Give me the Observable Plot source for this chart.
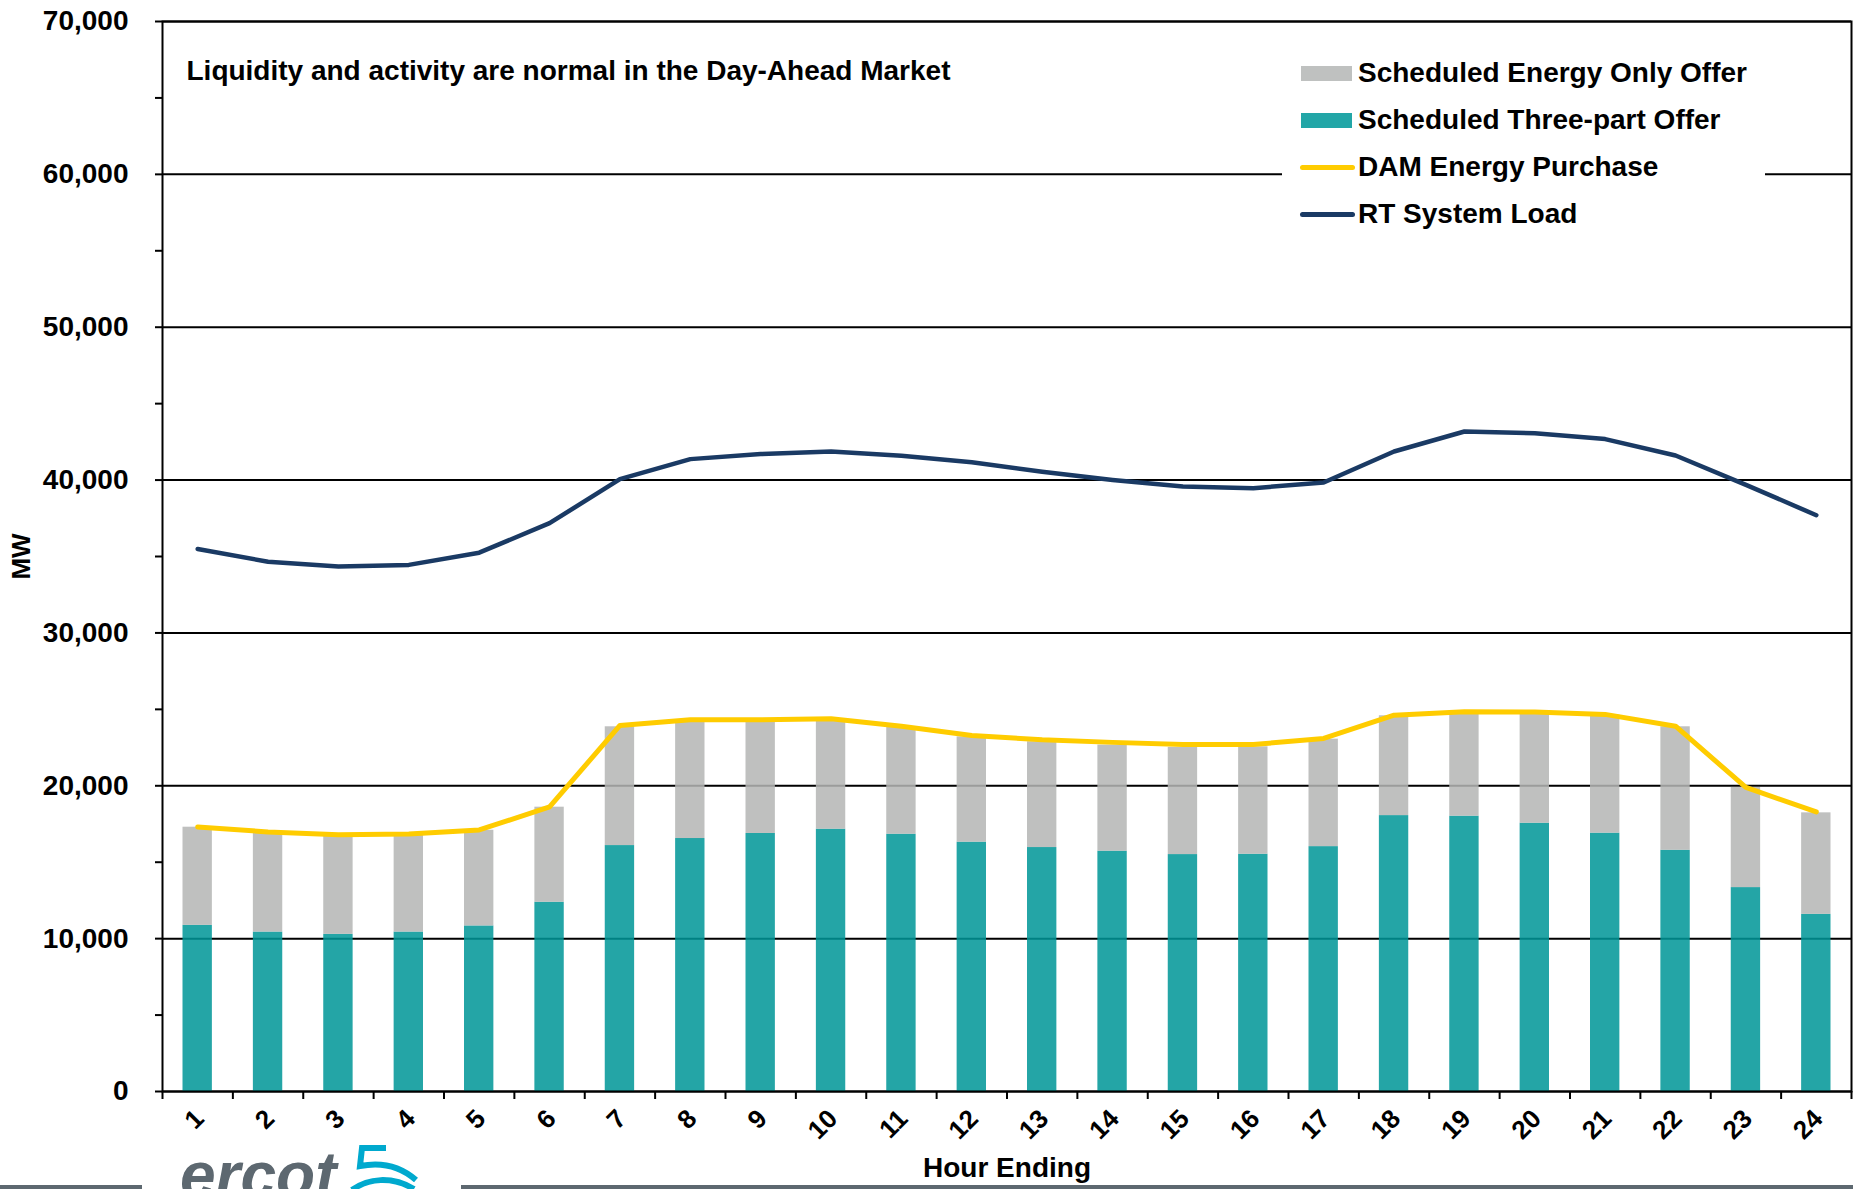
<!DOCTYPE html>
<html>
<head>
<meta charset="utf-8">
<script src="https://cdn.jsdelivr.net/npm/d3@7"></script>
<script src="https://cdn.jsdelivr.net/npm/@observablehq/plot@0.6"></script>
<style>
  html, body { margin: 0; padding: 0; background: #fff; }
  #wrap { position: relative; width: 1853px; height: 1189px; overflow: hidden; font-family: "Liberation Sans", Arial, sans-serif; }
  #chart { position: absolute; left: 0; top: 0; }
  #legend { position: absolute; left: 1282px; top: 40px; width: 483px; height: 195px; background: #fff; }
  .row { position: absolute; left: 0; height: 30px; width: 483px; }
  .sw { position: absolute; left: 19px; }
  .lab { position: absolute; left: 76px; top: 0; line-height: 30px; font-size: 28px; font-weight: bold; color: #000; white-space: nowrap; }
  #logo { position: absolute; left: 0; top: 0; pointer-events: none; }
</style>
</head>
<body>
<div id="wrap">
  <div id="chart"></div>
  <div id="legend"></div>
  <svg id="logo" width="1853" height="1189"></svg>
</div>
<script>
// ---------- data ----------
const hours = [1,2,3,4,5,6,7,8,9,10,11,12,13,14,15,16,17,18,19,20,21,22,23,24];
const threePartOffer = [10870,10430,10280,10430,10830,12380,16090,16550,16880,17160,16830,16310,15960,15720,15500,15520,16020,18050,18010,17550,16900,15780,13340,11590];
const energyOnlyOffer = [6420,6550,6480,6400,6260,6220,7770,7700,7370,7140,7020,6890,6920,6940,7010,7030,7030,6530,6790,7250,7720,8080,6550,6640];
const damEnergyPurchase = [17310,16980,16790,16840,17110,18620,23950,24320,24320,24380,23900,23290,23010,22840,22700,22700,23100,24620,24840,24830,24670,23900,19890,18290];
const rtSystemLoad = [35490,34660,34340,34450,35250,37180,40060,41370,41700,41870,41590,41170,40540,40010,39580,39470,39840,41870,43180,43070,42680,41610,39690,37700];
const yMajorTicks = [0,10000,20000,30000,40000,50000,60000,70000];
const yMinorTicks = [5000,15000,25000,35000,45000,55000,65000];
const xBoundaryTicks = [0.5,1.5,2.5,3.5,4.5,5.5,6.5,7.5,8.5,9.5,10.5,11.5,12.5,13.5,14.5,15.5,16.5,17.5,18.5,19.5,20.5,21.5,22.5,23.5,24.5];
const seriesNames = ["Scheduled Three-part Offer","Scheduled Energy Only Offer"];
const annotation = "Liquidity and activity are normal in the Day-Ahead Market";

// ---------- tables ----------
const bars = hours.flatMap((h, i) => [
  {hour: h, series: seriesNames[0], value: threePartOffer[i]},
  {hour: h, series: seriesNames[1], value: energyOnlyOffer[i]}
]);
const dam = hours.map((h, i) => ({hour: h, value: damEnergyPurchase[i]}));
const rt = hours.map((h, i) => ({hour: h, value: rtSystemLoad[i]}));

const FONT = "Liberation Sans, Arial, sans-serif";

const chart = Plot.plot({
  width: 1853,
  height: 1189,
  marginLeft: 162,
  marginRight: 2,
  marginTop: 21,
  marginBottom: 98,
  style: {fontFamily: FONT, background: "#fff", color: "#000"},
  x: {type: "linear", domain: [0.5, 24.5], axis: null},
  y: {domain: [0, 70000], axis: null},
  color: {domain: seriesNames, range: ["rgb(0,150,151)", "rgb(180,182,181)"]},
  marks: [
    Plot.ruleY(yMajorTicks, {stroke: "#000", strokeWidth: 2}),
    Plot.rectY(bars, {
      x1: d => d.hour - 0.5, x2: d => d.hour + 0.5, y: "value",
      fill: "series", fillOpacity: 0.86, insetLeft: 20.5, insetRight: 20.5
    }),
    Plot.line(dam, {x: "hour", y: "value", stroke: "#FFCC00", strokeWidth: 5, strokeLinejoin: "round", strokeLinecap: "round"}),
    Plot.line(rt, {x: "hour", y: "value", stroke: "#1A3A64", strokeWidth: 4.5, strokeLinejoin: "round", strokeLinecap: "round"}),
    Plot.frame({stroke: "#000", strokeWidth: 2}),
    Plot.axisY({ticks: yMajorTicks, tickSize: 7, tickPadding: 27, tickFormat: d3.format(","), fontSize: 28, fontWeight: "bold", label: null, strokeWidth: 2}),
    Plot.axisY({ticks: yMinorTicks, tickSize: 7, tickFormat: () => "", label: null, strokeWidth: 2}),
    Plot.axisX({ticks: xBoundaryTicks, tickSize: 8, tickFormat: () => "", label: null, strokeWidth: 2}),
    Plot.text(hours, {x: d => d, y: 0, text: d => String(d), rotate: -45, textAnchor: "end", lineAnchor: "middle", dy: 23, dx: 2, fontSize: 26, fontWeight: "bold", fill: "#000"}),
    Plot.text([annotation], {frameAnchor: "top-left", textAnchor: "start", lineAnchor: "middle", dx: 24, dy: 50, fontSize: 28, fontWeight: "bold", fill: "#000"}),
    Plot.text(["MW"], {frameAnchor: "left", textAnchor: "middle", lineAnchor: "middle", rotate: -90, dx: -141, fontSize: 26, fontWeight: "bold", fill: "#000"}),
    Plot.text(["Hour Ending"], {frameAnchor: "bottom", textAnchor: "middle", lineAnchor: "middle", dy: 77, fontSize: 28, fontWeight: "bold", fill: "#000"})
  ]
});
document.getElementById("chart").appendChild(chart);

// ---------- legend ----------
const legendItems = [
  {label: "Scheduled Energy Only Offer", kind: "rect", color: "#BFC1C0"},
  {label: "Scheduled Three-part Offer", kind: "rect", color: "#22A6A7"},
  {label: "DAM Energy Purchase", kind: "line", color: "#FFCC00"},
  {label: "RT System Load", kind: "line", color: "#1A3A64"}
];
const legend = document.getElementById("legend");
legendItems.forEach((it, i) => {
  const row = document.createElement("div");
  row.className = "row";
  row.style.top = (18 + i * 47) + "px";
  const sw = document.createElement("div");
  sw.className = "sw";
  if (it.kind === "rect") {
    sw.style.cssText = `left:19px;top:8px;width:51px;height:15px;background:${it.color};`;
  } else {
    sw.style.cssText = `left:18px;top:13px;width:55px;height:5px;border-radius:3px;background:${it.color};`;
  }
  const lab = document.createElement("div");
  lab.className = "lab";
  lab.textContent = it.label;
  row.appendChild(sw);
  row.appendChild(lab);
  legend.appendChild(row);
});

// ---------- footer logo ----------
const logo = d3.select("#logo");
logo.append("rect").attr("x", 0).attr("y", 1185).attr("width", 142).attr("height", 4).attr("fill", "#5D6870");
logo.append("rect").attr("x", 461).attr("y", 1185).attr("width", 1392).attr("height", 4).attr("fill", "#5D6870");
logo.append("text").attr("x", 180).attr("y", 1197).attr("font-family", FONT).attr("font-style", "italic")
  .attr("font-weight", "bold").attr("font-size", 64).attr("fill", "#5D6870").text("ercot");
logo.append("path").attr("d", "M386,1148 L362,1148 L360,1166 C380,1162 400,1166 416,1180")
  .attr("fill", "none").attr("stroke", "#00A9CE").attr("stroke-width", 6);
logo.append("path").attr("d", "M352,1190 C368,1178 392,1176 414,1189")
  .attr("fill", "none").attr("stroke", "#00A9CE").attr("stroke-width", 6);
</script>
</body>
</html>
